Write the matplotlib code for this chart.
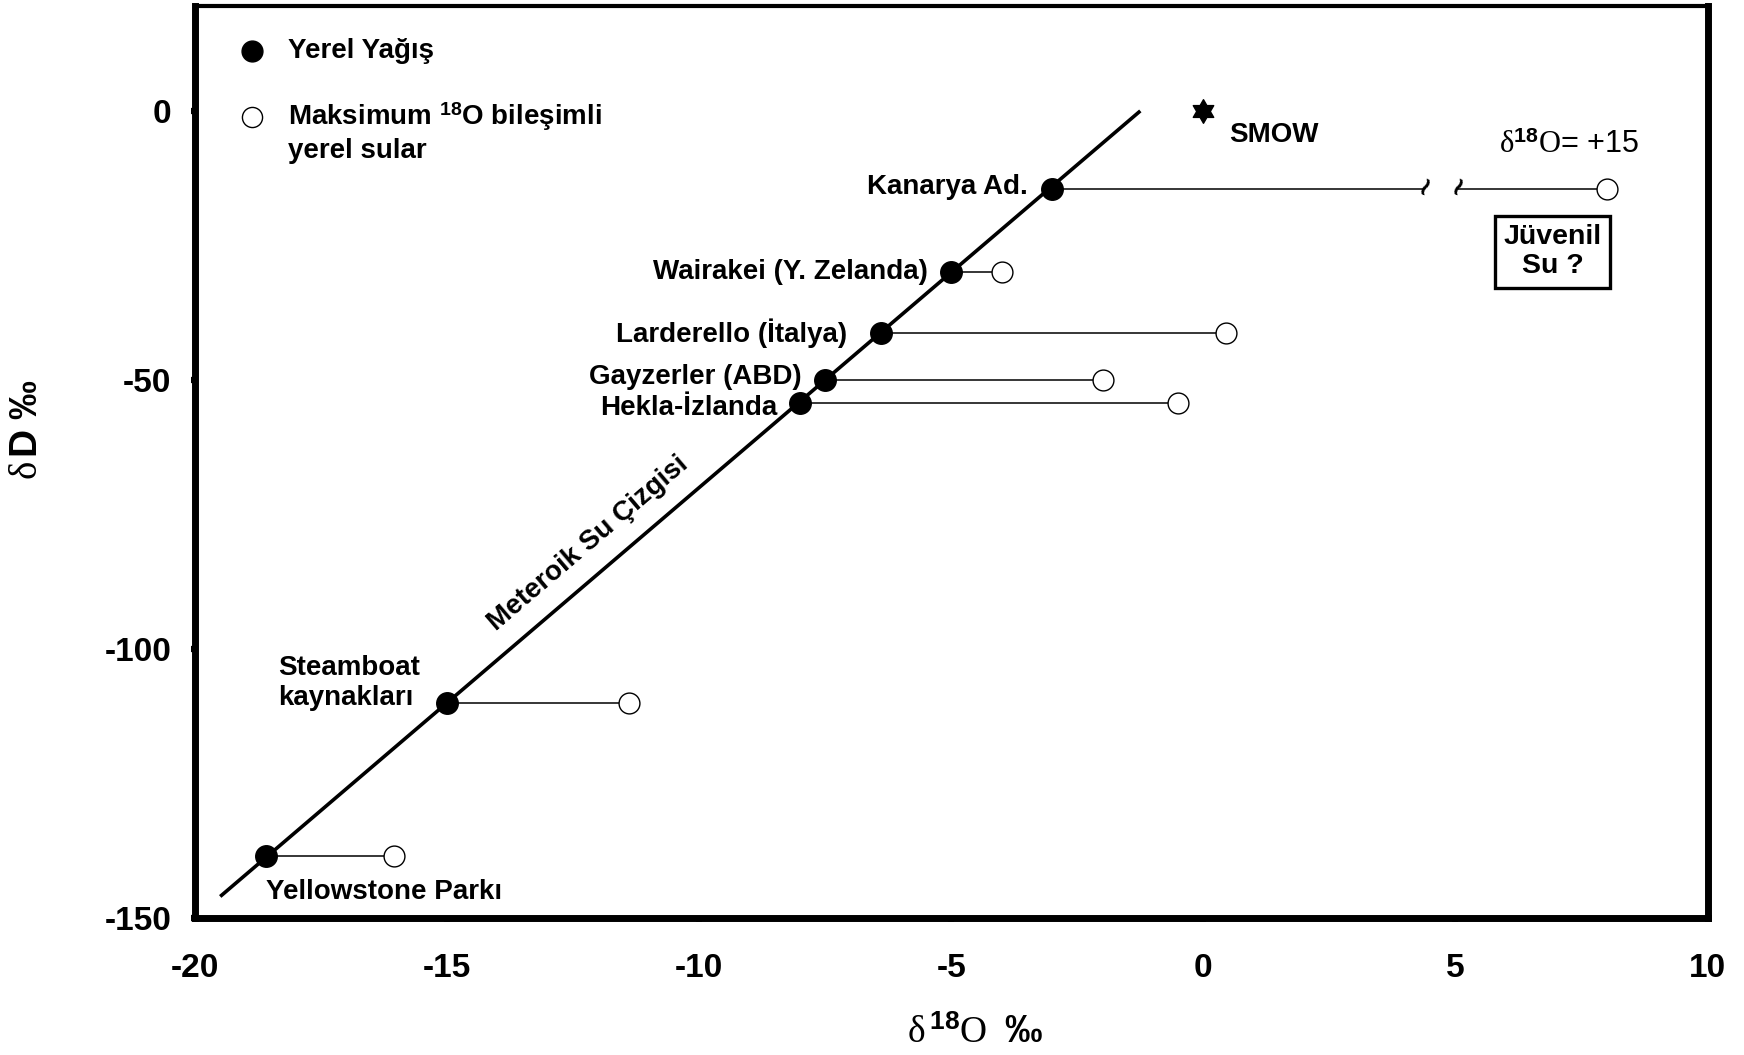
import numpy as np
import matplotlib
matplotlib.use("Agg")
import matplotlib.pyplot as plt
from matplotlib.path import Path

plt.rcParams['font.family'] = ['Liberation Sans', 'DejaVu Sans']
plt.rcParams['axes.unicode_minus'] = False
plt.rcParams['mathtext.fontset'] = 'custom'
plt.rcParams['mathtext.rm'] = 'Liberation Serif'
plt.rcParams['mathtext.bf'] = 'Liberation Sans:bold'
plt.rcParams['mathtext.sf'] = 'Liberation Sans'
plt.rcParams['mathtext.it'] = 'Liberation Serif:italic'

# ---------------- data ----------------
sites = ["Yellowstone Parkı", "Steamboat\nkaynakları", "Hekla-İzlanda", "Gayzerler (ABD)",
         "Larderello (İtalya)", "Wairakei (Y. Zelanda)", "Kanarya Ad."]
precip_d18o = [-18.6, -15.0, -8.0, -7.5, -6.4, -5.0, -3.0]
precip_dD = [-138.5, -110.0, -54.2, -50.0, -41.2, -30.0, -14.5]
max_d18o = [-16.05, -11.4, -0.5, -2.0, 0.45, -4.0, 8.0]   # last one drawn at 8 (break), real +15
mwl_x = [-19.5, -1.25]
mwl_y = [-146.0, 0.0]
smow = (0.0, 0.0)
break_x = [4.38, 5.03]
xticks = [-20, -15, -10, -5, 0, 5, 10]
yticks = [-150, -100, -50, 0]

W, H = 1744, 1055
fig = plt.figure(figsize=(W / 100, H / 100), dpi=100)
ax = fig.add_axes([195 / W, 137 / H, 1512.5 / W, 912 / H])
ax.set_xlim(-20, 10)
ax.set_ylim(-150, 19.5)

for s in ['left', 'right', 'bottom']:
    ax.spines[s].set_linewidth(5)
ax.spines['top'].set_linewidth(3)

ax.set_xticks(xticks)
ax.set_yticks(yticks)
ax.tick_params(direction='out', length=3, width=4.5, labelsize=24)
ax.tick_params(axis='y', pad=14)
ax.tick_params(axis='x', pad=22)
for lab in ax.get_xticklabels() + ax.get_yticklabels():
    lab.set_fontweight('bold')

# meteoric water line
ax.plot(mwl_x, mwl_y, color='black', lw=2.6, zorder=2, solid_capstyle='butt')
ax.text(-12.2, -80.5, "Meteroik Su Çizgisi", rotation=40.5, rotation_mode='anchor',
        ha='center', va='center', fontsize=20, fontweight='bold')

# connectors
for i in range(len(sites)):
    if i == len(sites) - 1:
        ax.plot([precip_d18o[i], break_x[0]], [precip_dD[i]] * 2, color='black', lw=1.1, zorder=1)
        ax.plot([break_x[1], max_d18o[i]], [precip_dD[i]] * 2, color='black', lw=1.1, zorder=1)
    else:
        ax.plot([precip_d18o[i], max_d18o[i]], [precip_dD[i]] * 2, color='black', lw=1.1, zorder=1)

for bx in break_x:
    ax.text(bx, precip_dD[-1], "≀", rotation=-25, ha='center', va='center',
            fontsize=19, fontweight='bold', family='DejaVu Sans')

ax.plot(max_d18o, precip_dD, 'o', ms=15, mfc='white', mec='black', mew=1.0, ls='none', zorder=3)
ax.plot(precip_d18o, precip_dD, 'o', ms=15.5, mfc='black', mec='black', ls='none', zorder=4)

# hexagram star for SMOW
ang = np.deg2rad(90 + 30 * np.arange(12))
rad = np.where(np.arange(12) % 2 == 0, 1.0, 0.577)
verts = np.column_stack([rad * np.cos(ang), rad * np.sin(ang)])
verts = np.vstack([verts, verts[:1]])
hexagram = Path(verts, [Path.MOVETO] + [Path.LINETO] * 11 + [Path.CLOSEPOLY])
ax.plot([smow[0]], [smow[1]], marker=hexagram, ms=17, color='black', ls='none', zorder=4)
ax.text(0.52, -4.4, "SMOW", ha='left', va='center', fontsize=20, fontweight='bold')

# site labels
label_pos = [(-18.59, -145.2, 'left'), (-18.35, -106.4, 'left'), (-8.45, -55.2, 'right'),
             (-7.96, -49.4, 'right'), (-7.06, -41.3, 'right'), (-5.46, -29.9, 'right'),
             (-3.49, -14.1, 'right')]
for name, (lx, ly, ha) in zip(sites, label_pos):
    ax.text(lx, ly, name, ha=ha, va='center', fontsize=20, fontweight='bold',
            multialignment='left', linespacing=1.2)

ax.text(5.87, -6.3, r"$\mathrm{δ}^{\mathbf{18}}\mathrm{O}$= +15", ha='left', va='center', fontsize=22)
ax.text(6.93, -26.2, "Jüvenil\nSu ?", ha='center', va='center', fontsize=20.5, fontweight='bold',
        multialignment='center', linespacing=1.15,
        bbox=dict(boxstyle='square,pad=0.3', fc='white', ec='black', lw=2.4))

# legend (manual)
ax.plot([0.0378], [0.9507], transform=ax.transAxes, marker='o', ms=15, color='black', ls='none', clip_on=False)
ax.plot([0.0378], [0.878], transform=ax.transAxes, marker='o', ms=14.5, mfc='white', mec='black',
        mew=1.0, ls='none', clip_on=False)
ax.text(0.0615, 0.9507, "Yerel Yağış", transform=ax.transAxes, ha='left', va='center',
        fontsize=20, fontweight='bold')
ax.text(0.0615, 0.878, r"Maksimum $^{\mathbf{18}}$O bileşimli", transform=ax.transAxes,
        ha='left', va='center', fontsize=20, fontweight='bold')
ax.text(0.0615, 0.8405, "yerel sular", transform=ax.transAxes, ha='left', va='center',
        fontsize=20, fontweight='bold')

# axis labels
fig.text(975 / W, 1 - 1033 / H, r"$\mathrm{δ}\,^{\mathbf{18}}\mathrm{O}\ \ \mathbf{‰}$",
         ha='center', va='center', fontsize=27)
fig.text(27 / W, 1 - 430 / H, r"$\mathrm{δ}\,\mathbf{D}\ \mathbf{‰}$", rotation=90,
         ha='center', va='center', fontsize=28)

fig.savefig("out.png", dpi=100)
